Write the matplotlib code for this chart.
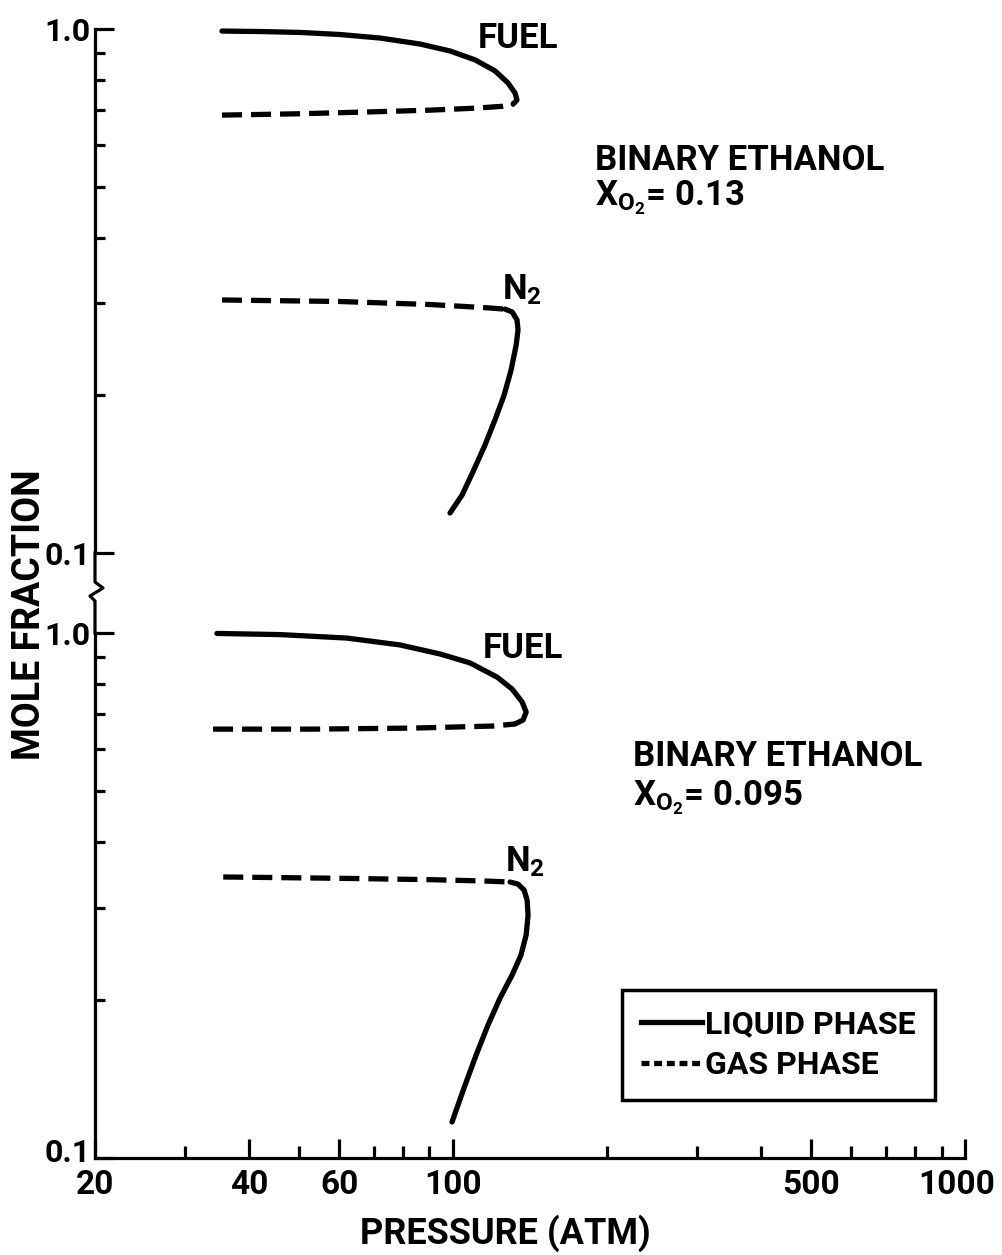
import matplotlib.pyplot as plt
import numpy as np
from matplotlib.lines import Line2D
from matplotlib.ticker import FixedLocator, NullFormatter
from matplotlib.transforms import ScaledTranslation

# pressure (atm) / mole fraction
# panel A : X_O2 = 0.13
p_fuel_liq_a = [35.4, 42.0, 50.3, 60.2, 72.1, 86.3, 98.7, 110.5, 120.8, 128.1, 132.2, 133.4, 131.1]
y_fuel_liq_a = [0.991, 0.989, 0.985, 0.976, 0.961, 0.936, 0.908, 0.873, 0.832, 0.789, 0.755, 0.732, 0.719]
p_fuel_gas_a = [35.4, 50.0, 70.0, 90.0, 110.0, 125.0, 131.1]
y_fuel_gas_a = [0.685, 0.689, 0.695, 0.700, 0.706, 0.712, 0.719]
p_n2_gas_a = [35.4, 60.0, 90.0, 115.0, 126.4]
y_n2_gas_a = [0.304, 0.302, 0.298, 0.294, 0.292]
p_n2_liq_a = [126.4, 130.5, 133.4, 134.0, 132.9, 129.9, 125.9, 120.8, 115.5, 109.4, 104.2, 98.7]
y_n2_liq_a = [0.292, 0.2884, 0.2785, 0.2665, 0.2494, 0.2235, 0.2002, 0.1794, 0.1607, 0.1428, 0.129, 0.1192]

# panel B : X_O2 = 0.095
p_fuel_liq_b = [34.6, 46.0, 62.1, 78.8, 94.4, 108.0, 122.0, 130.5, 136.5, 139.0, 137.1, 132.2]
y_fuel_liq_b = [0.998, 0.993, 0.978, 0.949, 0.912, 0.877, 0.824, 0.782, 0.739, 0.707, 0.683, 0.671]
p_fuel_gas_b = [34.0, 53.3, 83.6, 120.0, 132.2]
y_fuel_gas_b = [0.656, 0.656, 0.659, 0.665, 0.671]
p_n2_gas_b = [35.6, 60.0, 90.0, 115.0, 129.3]
y_n2_gas_b = [0.343, 0.341, 0.339, 0.337, 0.3355]
p_n2_liq_b = [129.3, 134.0, 137.7, 139.6, 140.2, 139.0, 135.8, 130.5, 123.6, 117.1, 111.0, 105.1, 99.6]
y_n2_liq_b = [0.3355, 0.3324, 0.3239, 0.310, 0.2903, 0.266, 0.2435, 0.2231, 0.2017, 0.1792, 0.1571, 0.1359, 0.1171]

x_major = [20, 40, 60, 100, 500, 1000]
x_major_labels = ['20', '40', '60', '100', '500', '1000']
x_minor = [30, 50, 70, 80, 90, 200, 300, 400, 600, 700, 800, 900]
y_major = [0.1, 1.0]
y_major_labels = ['0.1', '1.0']
y_minor = [0.2, 0.3, 0.4, 0.5, 0.6, 0.7, 0.8, 0.9]

plt.rcParams['font.family'] = ['Roboto', 'DejaVu Sans']
plt.rcParams['font.weight'] = 'bold'
plt.rcParams['mathtext.fontset'] = 'custom'
plt.rcParams['mathtext.rm'] = 'Roboto:bold'
plt.rcParams['mathtext.default'] = 'rm'

W, H = 1002, 1255
fig = plt.figure(figsize=(W / 100, H / 100), dpi=100)


def fx(px):
    return px / W


def fy(py):
    return 1 - py / H


ax_top = fig.add_axes([fx(95), fy(553), fx(965) - fx(95), fy(29) - fy(553)])
ax_bot = fig.add_axes([fx(95), fy(1158), fx(965) - fx(95), fy(633) - fy(1158)])

LW = 3.8
dash = (0, (3.8, 1.7))

for ax in (ax_top, ax_bot):
    ax.set_xscale('log')
    ax.set_yscale('log')
    ax.set_xlim(20, 1000)
    ax.set_ylim(0.1, 1.0)
    ax.spines['top'].set_visible(False)
    ax.spines['right'].set_visible(False)
    ax.spines['left'].set_linewidth(2.3)
    ax.spines['bottom'].set_linewidth(2.3)
    ax.yaxis.set_major_locator(FixedLocator(y_major))
    ax.yaxis.set_minor_locator(FixedLocator(y_minor))
    ax.yaxis.set_minor_formatter(NullFormatter())
    ax.set_yticklabels(y_major_labels)
    ax.tick_params(axis='y', which='major', direction='in', length=14, width=2.3,
                   labelsize=23, pad=3)
    ax.tick_params(axis='y', which='minor', direction='in', length=7, width=2.3)

ax_top.spines['bottom'].set_visible(False)
ax_top.tick_params(axis='x', which='both', bottom=False, labelbottom=False)

ax_bot.xaxis.set_major_locator(FixedLocator(x_major))
ax_bot.xaxis.set_minor_locator(FixedLocator(x_minor))
ax_bot.xaxis.set_minor_formatter(NullFormatter())
ax_bot.set_xticklabels(x_major_labels)
ax_bot.tick_params(axis='x', which='major', direction='in', length=14, width=2.3,
                   labelsize=24, pad=8)
ax_bot.tick_params(axis='x', which='minor', direction='in', length=8.5, width=2.3)

# nudge the last x label in so it stays inside the page,
# and lift the lower 0.1 so it sits on the axis line like the original
last = ax_bot.get_xticklabels()[-1]
last.set_transform(last.get_transform() + ScaledTranslation(-6 / 72, 0, fig.dpi_scale_trans))
low = ax_bot.get_yticklabels()[0]
low.set_transform(low.get_transform() + ScaledTranslation(0, 6 / 72, fig.dpi_scale_trans))

# curves
ax_top.plot(p_fuel_liq_a, y_fuel_liq_a, 'k-', lw=LW, solid_capstyle='round',
            solid_joinstyle='round', clip_on=False)
ax_top.plot(p_fuel_gas_a, y_fuel_gas_a, 'k', ls=dash, lw=LW, clip_on=False)
ax_top.plot(p_n2_gas_a, y_n2_gas_a, 'k', ls=dash, lw=LW, clip_on=False)
ax_top.plot(p_n2_liq_a, y_n2_liq_a, 'k-', lw=LW, solid_capstyle='round',
            solid_joinstyle='round', clip_on=False)

ax_bot.plot(p_fuel_liq_b, y_fuel_liq_b, 'k-', lw=LW, solid_capstyle='round',
            solid_joinstyle='round', clip_on=False)
ax_bot.plot(p_fuel_gas_b, y_fuel_gas_b, 'k', ls=dash, lw=LW, clip_on=False)
ax_bot.plot(p_n2_gas_b, y_n2_gas_b, 'k', ls=dash, lw=LW, clip_on=False)
ax_bot.plot(p_n2_liq_b, y_n2_liq_b, 'k-', lw=LW, solid_capstyle='round',
            solid_joinstyle='round', clip_on=False)

# axis break between the two panels
brk_x = [95, 95, 103, 90, 95, 95]
brk_y = [553, 582, 588, 596, 601, 633]
fig.add_artist(Line2D([fx(v) for v in brk_x], [fy(v) for v in brk_y],
                      color='k', lw=2.3))

# annotations
fs = 25
fig.text(fx(478), fy(38), 'FUEL', fontsize=fs, va='center')
fig.text(fx(502), fy(290), r'N$_2$', fontsize=fs, va='center')
fig.text(fx(595), fy(160), 'BINARY ETHANOL', fontsize=fs, va='center')
fig.text(fx(595), fy(198), r'X$_{O_2}$= 0.13', fontsize=fs, va='center')

fig.text(fx(483), fy(648), 'FUEL', fontsize=fs, va='center')
fig.text(fx(505), fy(862), r'N$_2$', fontsize=fs, va='center')
fig.text(fx(633), fy(756), 'BINARY ETHANOL', fontsize=fs, va='center')
fig.text(fx(633), fy(798), r'X$_{O_2}$= 0.095', fontsize=fs, va='center')

fig.text(fx(505), fy(1233), 'PRESSURE (ATM)', fontsize=26, ha='center', va='center')
fig.text(fx(30), fy(615), 'MOLE FRACTION', fontsize=27, ha='center', va='center',
         rotation=90)

handles = [Line2D([], [], color='k', lw=LW),
           Line2D([], [], color='k', lw=LW, ls=(0, (1.5, 0.9)))]
leg = ax_bot.legend(handles, ['LIQUID PHASE', 'GAS PHASE'], loc='upper left',
                    bbox_to_anchor=(fx(622), fy(990)), bbox_transform=fig.transFigure,
                    fontsize=23, frameon=True, fancybox=False, framealpha=1,
                    edgecolor='k', handlelength=1.9, handletextpad=0.1,
                    borderpad=0.6, labelspacing=0.35, borderaxespad=0)
leg.get_frame().set_linewidth(2.5)

plt.savefig('out.png', dpi=100)
